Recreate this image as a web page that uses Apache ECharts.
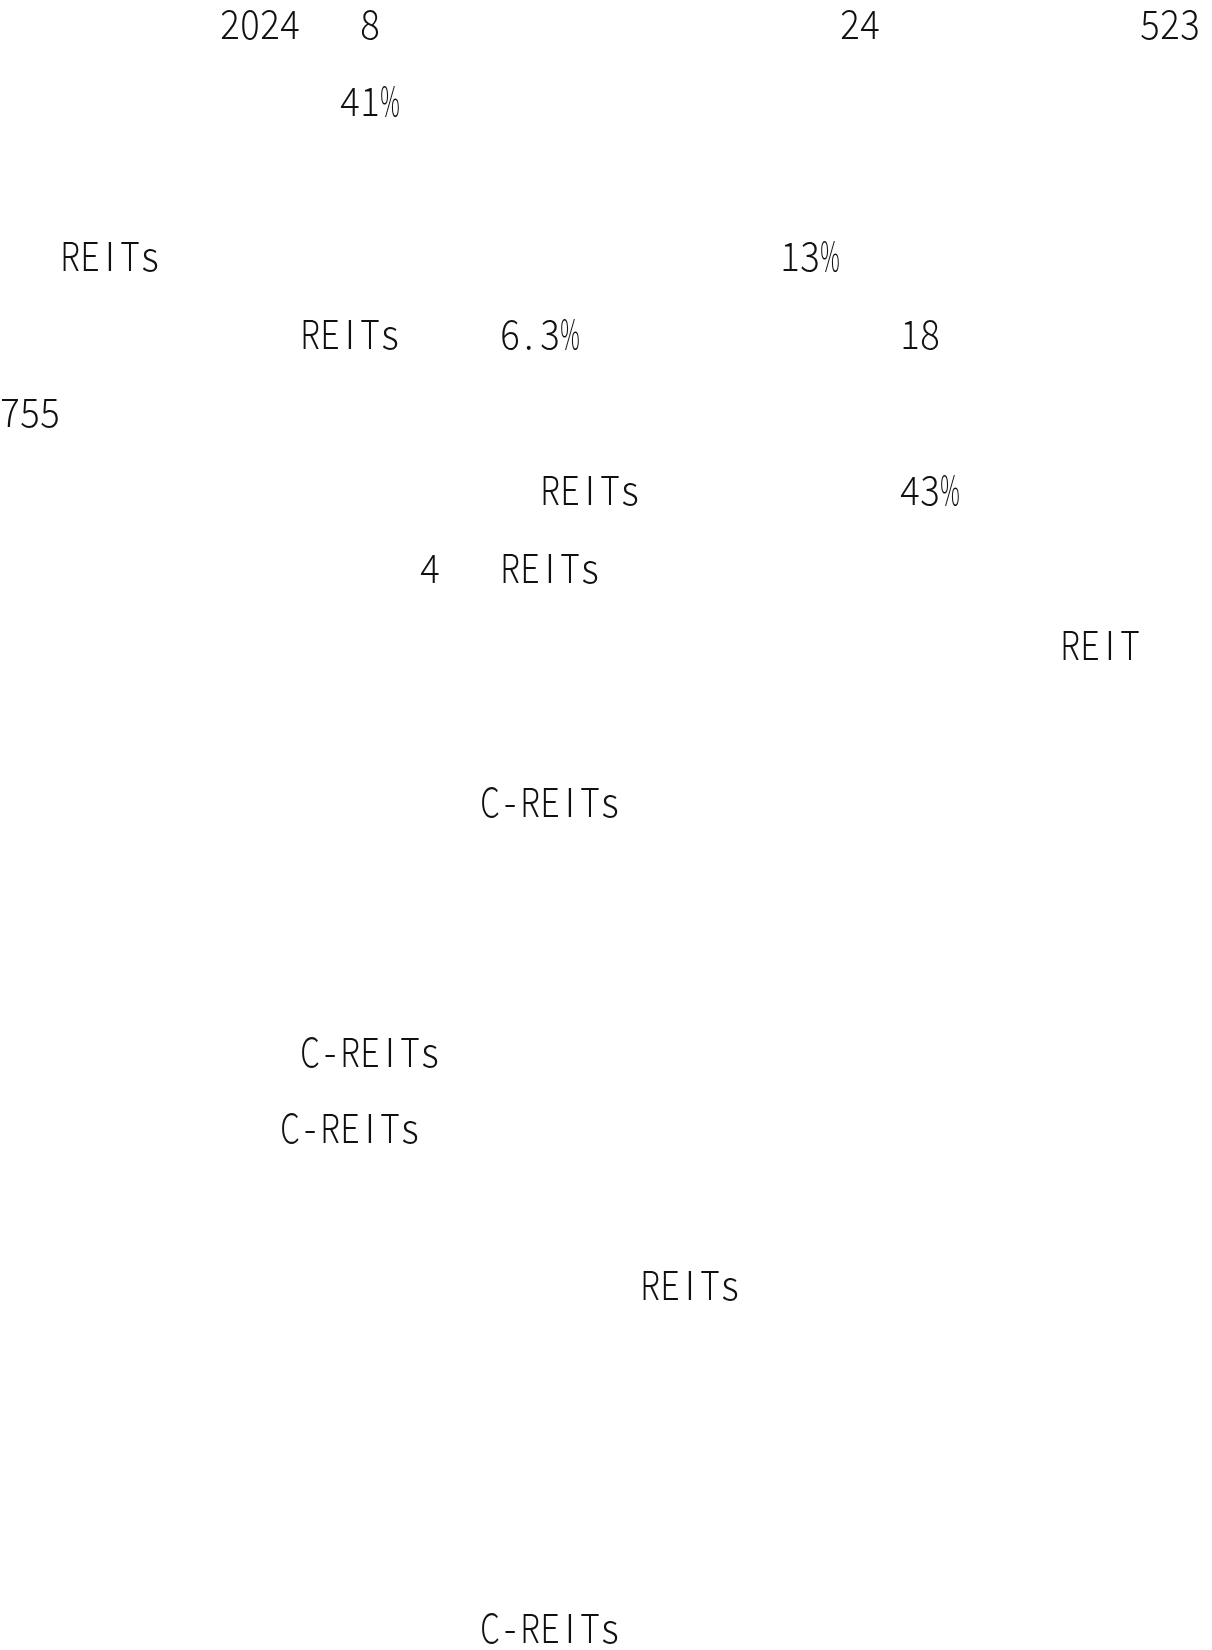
<!DOCTYPE html>
<html>
<head>
<meta charset="utf-8">
<script src="https://cdn.jsdelivr.net/npm/echarts@6/dist/echarts.min.js"></script>
<style>
  html, body { margin: 0; padding: 0; background: #fff; }
  #text-chart { width: 1212px; height: 1650px; }
</style>
</head>
<body>
<div id="text-chart"></div>
<script>
// each row: counts of blank half-width cells, then the visible run that follows
const row01 = [11, '2024', 3, '8', 23, '24', 13, '523'];
const row02 = [17, '41%'];
const row03 = [3, 'REITs', 31, '13%'];
const row04 = [15, 'REITs', 5, '6.3%', 16, '18'];
const row05 = [0, '755'];
const row06 = [27, 'REITs', 13, '43%'];
const row07 = [21, '4', 3, 'REITs'];
const row08 = [53, 'REIT'];
const row09 = [24, 'C-REITs'];
const row10 = [15, 'C-REITs'];
const row11 = [14, 'C-REITs'];
const row12 = [32, 'REITs'];
const row13 = [24, 'C-REITs'];

const rows = [row01, row02, row03, row04, row05, row06, row07, row08, row09, row10, row11, row12, row13];

// layout: baseline of every row in the page
const rowBaselines = [39, 116, 271, 349, 427, 505, 583, 660, 817, 1067, 1143, 1300, 1643];
const cellWidth = 20;
const fontSize = 40;
const font = '300 ' + fontSize + 'px "Noto Sans CJK SC", "Noto Sans", sans-serif';

// half-width look: every glyph is squeezed into its own cell
const measureCtx = document.createElement('canvas').getContext('2d');
measureCtx.font = font;

function renderText() {
    let myChart = echarts.init(document.getElementById('text-chart'), null, { renderer: 'canvas' });
    let elements = [];

    rows.forEach(function (row, i) {
        let col = 0;
        for (let k = 0; k < row.length; k += 2) {
            col += row[k];
            let txt = row[k + 1];
            for (let j = 0; j < txt.length; j++) {
                let ch = txt[j];
                let w = measureCtx.measureText(ch).width || cellWidth;
                let sx = Math.min(0.95, (cellWidth - 0.5) / w);
                let isDot = ch === '.';
                elements.push({
                    type: 'text',
                    x: (col + j) * cellWidth + (isDot ? 4 : cellWidth / 2),
                    y: rowBaselines[i] - 15,
                    scaleX: sx,
                    style: {
                        text: ch,
                        fill: '#111',
                        font: font,
                        verticalAlign: 'middle',
                        align: isDot ? 'left' : 'center'
                    }
                });
            }
            col += txt.length;
        }
    });

    let option = {
        backgroundColor: '#fff',
        animation: false,
        graphic: {
            elements: elements
        }
    };

    option && myChart.setOption(option);
}

renderText();
</script>
</body>
</html>
